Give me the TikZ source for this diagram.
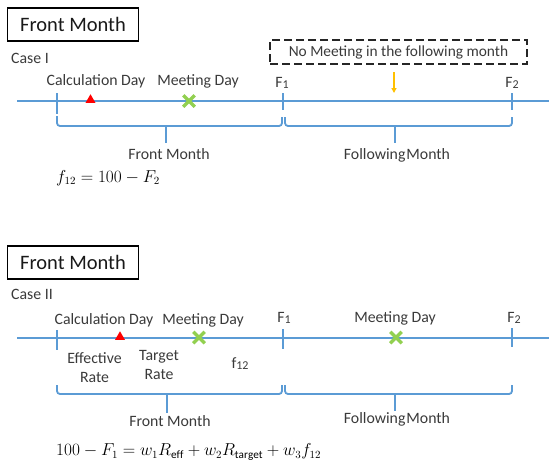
\documentclass[tikz,border=0pt]{standalone}
\usepackage{fontspec}
\setmainfont{Carlito}
\usetikzlibrary{arrows.meta,shapes.geometric,shapes.misc}
\definecolor{tl}{HTML}{5B9BD5}
\definecolor{mkred}{HTML}{FF0000}
\definecolor{mkgreen}{HTML}{92D050}
\definecolor{mkorange}{HTML}{FFC000}
\definecolor{txt}{HTML}{3A3A3A}
\tikzset{
  axisline/.style={draw=tl, line width=2pt},
  tickmark/.style={draw=tl, line width=1.8pt},
  bracepath/.style={draw=tl, line width=1.8pt, rounded corners=3pt},
  lbl/.style={font=\fontsize{15.8}{19}\selectfont, inner sep=0pt, text=txt, align=center},
  titlebox/.style={draw=black, line width=1.5pt, font=\fontsize{20.5}{24}\selectfont,
     minimum width=131pt, minimum height=33pt, inner sep=0pt, text=black!90},
  dashbox/.style={draw=black!85, line width=2pt, dash pattern=on 8pt off 4pt,
     minimum width=257pt, minimum height=24pt, inner sep=0pt,
     font=\fontsize{15.4}{18}\selectfont, text=txt},
  redtri/.style={regular polygon, regular polygon sides=3, fill=mkred, minimum size=11.5pt, inner sep=0pt},
  greenx/.style={cross out, draw=mkgreen, line width=3.5pt, minimum size=8pt, inner sep=0pt},
  formula/.style={font=\fontsize{16}{19}\selectfont, inner sep=0pt, anchor=west, text=black},
  arr/.style={draw=mkorange, line width=1.3pt, -{Triangle[length=5pt,width=5pt]}}
}
\newcommand{\Fsub}[1]{F\raisebox{-0.15ex}{\fontsize{12}{14}\selectfont #1}}
\begin{document}
\begin{tikzpicture}[x=1pt,y=-1pt]
\useasboundingbox (0,0) rectangle (549,461);
% ================= Case I =================
\node[titlebox] (title1) at (73,24.5) {Front Month};
\node[lbl, anchor=west] (case1) at (11,58) {Case I};
\node[dashbox] (nomeet) at (398.5,52) {No Meeting in the following month};
% timeline
\coordinate (l1s) at (17,101);
\coordinate (l1e) at (549,101);
\draw[axisline] (l1s) -- (l1e);
% ticks
\coordinate (t1a) at (57,93); \coordinate (t1b) at (57,114);
\coordinate (t1c) at (283,93); \coordinate (t1d) at (283,110);
\coordinate (t1e) at (512,93); \coordinate (t1f) at (512,110);
\draw[tickmark] (t1a) -- (t1b);
\draw[tickmark] (t1c) -- (t1d);
\draw[tickmark] (t1e) -- (t1f);
% labels
\node[lbl] (calc1) at (96,81) {Calculation Day};
\node[lbl] (meet1) at (198,81) {Meeting Day};
\node[lbl] (F1a) at (282,83) {\Fsub{1}};
\node[lbl] (F2a) at (512,83) {\Fsub{2}};
% markers
\node[redtri] (tri1) at (90.5,100) {};
\node[greenx] (x1) at (189,101) {};
% orange arrow
\coordinate (ar1) at (394,72);
\coordinate (ar2) at (394,93);
\draw[arr] (ar1) -- (ar2);
% braces
\draw[bracepath] (57,116) |- (166,126) -| (282,117);
\draw[bracepath] (166,126) -- (166,143);
\draw[bracepath] (285,117) |- (395,126) -| (512,117);
\draw[bracepath] (395,126) -- (395,143);
\node[lbl] (fm1) at (169,154) {Front Month};
\node[lbl] (fol1) at (397,155) {Following\kern1pt Month};
\node[formula] (eq1) at (56,178) {$f_{12} = 100 - F_2$};
% ================= Case II =================
\node[titlebox] (title2) at (73,262.5) {Front Month};
\node[lbl, anchor=west] (case2) at (11,294) {Case II};
\coordinate (l2s) at (17,338);
\coordinate (l2e) at (549,338);
\draw[axisline] (l2s) -- (l2e);
\coordinate (t2a) at (57,330); \coordinate (t2b) at (57,350);
\coordinate (t2c) at (283,329); \coordinate (t2d) at (283,349);
\coordinate (t2e) at (512,328); \coordinate (t2f) at (512,347);
\draw[tickmark] (t2a) -- (t2b);
\draw[tickmark] (t2c) -- (t2d);
\draw[tickmark] (t2e) -- (t2f);
\node[lbl] (calc2) at (104,320) {Calculation Day};
\node[lbl] (meet2) at (203,320) {Meeting Day};
\node[lbl] (F1b) at (284,318) {\Fsub{1}};
\node[lbl] (meet3) at (395,318) {Meeting Day};
\node[lbl] (F2b) at (514,318) {\Fsub{2}};
\node[redtri] (tri2) at (120,337) {};
\node[greenx] (x2) at (199,337.5) {};
\node[greenx] (x3) at (396,337.5) {};
\node[lbl] (eff) at (94.5,367.5) {Effective\\Rate};
\node[lbl] (tgt) at (159,365) {Target\\Rate};
\node[lbl] (f12) at (240,364) {f\raisebox{-0.15ex}{\fontsize{12}{14}\selectfont 12}};
\draw[bracepath] (57,385) |- (167,394) -| (282,385);
\draw[bracepath] (167,394) -- (167,413);
\draw[bracepath] (285,385) |- (395,394) -| (512,385);
\draw[bracepath] (395,394) -- (395,411);
\node[lbl] (fm2) at (170,421) {Front Month};
\node[lbl] (fol2) at (397,419) {Following\kern1pt Month};
\node[formula] (eq2) at (56,452) {$100 - F_1 = w_1 R_{\mathrm{eff}} + w_2 R_{\mathrm{target}} + w_3 f_{12}$};
\end{tikzpicture}
\end{document}
